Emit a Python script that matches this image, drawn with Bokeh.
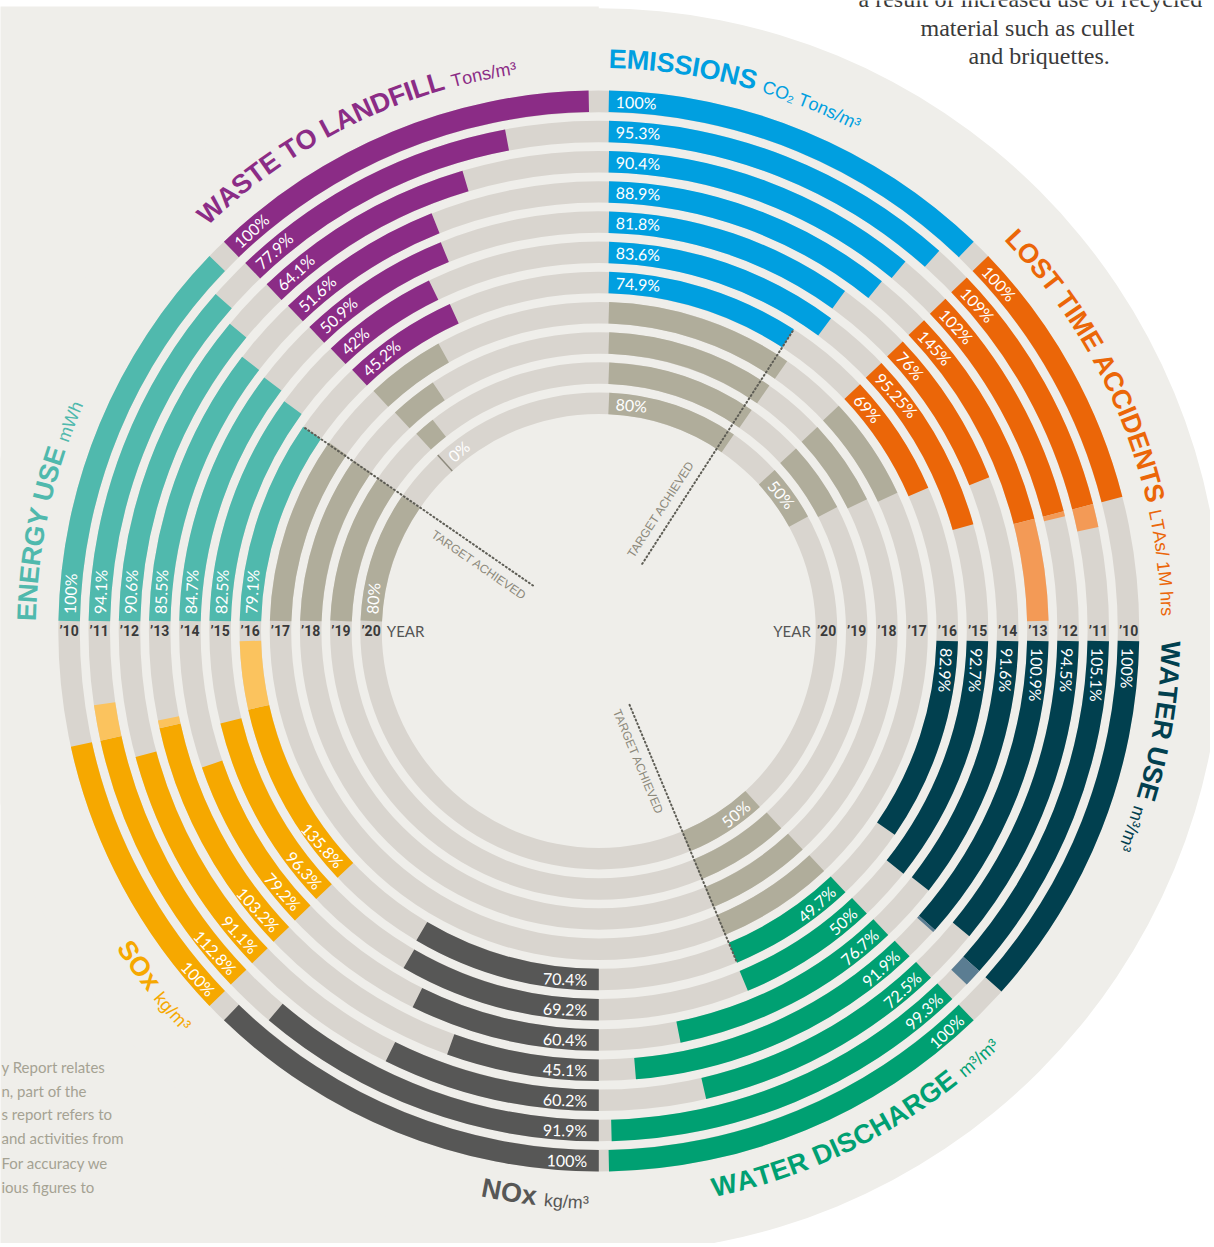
import math
from bokeh.plotting import figure
from bokeh.models import Range1d, ColumnDataSource
from bokeh.core.properties import value
from bokeh.embed import file_html
from bokeh.resources import INLINE

# ---------------- data ----------------
years = ["’10", "’11", "’12", "’13", "’14", "’15", "’16", "’17", "’18", "’19", "’20"]

emissions = [100, 95.3, 90.4, 88.9, 81.8, 83.6, 74.9]
emissions_target = [80, 80, 80, 80]
lost_time = [100, 109, 102, 145, 76, 95.25, 69]
lost_time_target = [64.25, 59.5, 54.75, 50]
water_use = [100, 105.1, 94.5, 100.9, 91.6, 92.7, 82.9]
water_discharge = [100, 99.3, 72.5, 91.9, 76.7, 50, 49.7]
water_discharge_target = [50, 50, 50, 50]
nox = [100, 91.9, 60.2, 45.1, 60.4, 69.2, 70.4]
sox = [100, 112.8, 91.1, 103.2, 79.2, 96.3, 135.8]
energy = [100, 94.1, 90.6, 85.5, 84.7, 82.5, 79.1]
energy_target = [80, 80, 80, 80]
waste = [100, 77.9, 64.1, 51.6, 50.9, 42, 45.2]
waste_target = [33.9, 22.6, 11.3, 0]

metric_names = ["EMISSIONS", "LOST TIME ACCIDENTS", "WATER USE", "WATER DISCHARGE",
                "NOx", "SOx", "ENERGY USE", "WASTE TO LANDFILL"]
metric_units = ["CO₂ Tons/m³", "LTAs/ 1M hrs", "m³/m³", "m³/m³",
                "kg/m³", "kg/m³", "mWh", "Tons/m³"]

note_lines = ["a result of increased use of recycled", "material such as cullet", "and briquettes."]
side_lines = ["y Report relates", "n, part of the", "s report refers to",
              "and activities from", "For accuracy we", "ious figures to"]

# ---------------- geometry / style ----------------
CX, CY = 598.3, 630.5
W, H = 1210, 1243
R0, STEP, THICK, GAP = 540.5, 30.2, 21.5, 10.0
BG, TRACK, KHAKI = "#EFEEEA", "#D9D5CF", "#B0AD9B"
LABEL_FONT = value("Lato")

n_rings = len(years)
r_out = [R0 - STEP * i for i in range(n_rings)]
r_in = [r - THICK for r in r_out]
r_mid = [r - THICK / 2 for r in r_out]

sectors = [
    dict(start=90, values=emissions, target=emissions_target, color="#009FE0", light="#6CC8F0", offset=True, side=1),
    dict(start=45, values=lost_time, target=lost_time_target, color="#EB6608", light="#F39A56", offset=True, side=1),
    dict(start=0, values=water_use, target=None, color="#01404F", light="#5B7D92", offset=True, side=1),
    dict(start=-45, values=water_discharge, target=water_discharge_target, color="#00A072", light="#66C7A8", offset=True, side=-1),
    dict(start=-90, values=nox, target=None, color="#575756", light="#8A8A88", offset=False, side=1),
    dict(start=-135, values=sox, target=None, color="#F6A800", light="#FBC35E", offset=True, side=1),
    dict(start=180, values=energy, target=energy_target, color="#50B9AD", light="#8FD3CB", offset=True, side=1),
    dict(start=135, values=waste, target=waste_target, color="#8B2C86", light="#B57BB2", offset=True, side=1),
]
for k, s in enumerate(sectors):
    s["name"] = metric_names[k]
    s["unit"] = metric_units[k]
    s["vmax"] = max(s["values"])


def half_gap(i):
    return math.degrees(math.asin(GAP / r_mid[i]))


def angles(sec, i, v):
    d = half_gap(i)
    a0 = sec["start"] - (d if sec["offset"] else 0.0)
    avail = 45.0 - d - (d if sec["offset"] else 0.0)
    return a0, a0 - v / sec["vmax"] * avail


p = figure(width=W, height=H, x_range=Range1d(-CX, W - CX),
           y_range=Range1d(CY - H, CY), output_backend="svg",
           toolbar_location=None, min_border=0, x_axis_location=None, y_axis_location=None)
p.grid.visible = False
p.outline_line_color = None
p.background_fill_color = "white"
p.border_fill_color = "white"

# page background: left page + big disc
p.quad(left=[-CX - 20], right=[0], bottom=[CY - 1290], top=[CY - 6], fill_color=BG, line_color=None)
p.circle(x=[0], y=[0], radius=623, fill_color=BG, line_color=None)

# tracks
p.annulus(x=0, y=0, inner_radius=r_in, outer_radius=r_out, fill_color=TRACK, line_color=None)

# bars
bars = dict(ri=[], ro=[], a0=[], a1=[], color=[])


def add_bar(i, a_from, a_to, color):
    bars["ri"].append(r_in[i]); bars["ro"].append(r_out[i])
    bars["a0"].append(math.radians(min(a_from, a_to)))
    bars["a1"].append(math.radians(max(a_from, a_to)))
    bars["color"].append(color)


lab_l = dict(x=[], y=[], text=[], angle=[])
lab_r = dict(x=[], y=[], text=[], angle=[])
markers = dict(xs=[], ys=[])


def add_label(sec, i, text):
    a0, _ = angles(sec, i, 0)
    pad = 7.0 if sec["offset"] else 11.5
    a = a0 - math.degrees(pad / r_mid[i])
    rot = a - 90.0
    dest = lab_l
    if rot < -100:
        rot += 180.0
        dest = lab_r
    ar = math.radians(a)
    dest["x"].append(r_mid[i] * math.cos(ar)); dest["y"].append(r_mid[i] * math.sin(ar))
    dest["text"].append(text); dest["angle"].append(math.radians(rot))


for sec in sectors:
    for i, v in enumerate(sec["values"]):
        a0, a1 = angles(sec, i, v)
        if v > 100:
            _, a100 = angles(sec, i, 100)
            add_bar(i, a0, a100, sec["color"])
            add_bar(i, a100, a1, sec["light"])
        else:
            add_bar(i, a0, a1, sec["color"])
        add_label(sec, i, f"{v:g}%")
    if sec["target"]:
        base = len(sec["values"])
        for j, tv in enumerate(sec["target"]):
            i = base + j
            a0, a1 = angles(sec, i, tv)
            if tv > 0:
                add_bar(i, a0, a1, KHAKI)
            else:
                ar = math.radians(a0)
                markers["xs"].append([r_in[i] * math.cos(ar), r_out[i] * math.cos(ar)])
                markers["ys"].append([r_in[i] * math.sin(ar), r_out[i] * math.sin(ar)])
        add_label(sec, n_rings - 1, f"{sec['target'][-1]:g}%")

p.annular_wedge(x=0, y=0, inner_radius="ri", outer_radius="ro", start_angle="a0", end_angle="a1",
                direction="anticlock", fill_color="color", line_color=None, source=ColumnDataSource(bars))
if markers["xs"]:
    p.multi_line(xs="xs", ys="ys", line_color="#8E8B7E", line_width=1.5, source=ColumnDataSource(markers))

p.text(x="x", y="y", text="text", angle="angle", source=ColumnDataSource(lab_l), text_align="left",
       text_baseline="middle", text_color="white", text_font=LABEL_FONT, text_font_size="16px")
p.text(x="x", y="y", text="text", angle="angle", source=ColumnDataSource(lab_r), text_align="right",
       text_baseline="middle", text_color="white", text_font=LABEL_FONT, text_font_size="16px")

# target achieved dotted lines
ta = dict(x=[], y=[], text=[], angle=[])
for sec in sectors:
    if sec["target"] and sec["values"][-1] <= sec["target"][-1]:
        i = len(sec["values"]) - 1
        _, a1 = angles(sec, i, sec["values"][-1])
        ar = math.radians(a1)
        p.line([80 * math.cos(ar), r_out[i] * math.cos(ar)], [80 * math.sin(ar), r_out[i] * math.sin(ar)],
               line_color="#5E5D55", line_width=2, line_dash="1 3", line_cap="round")
        perp = ar + math.pi / 2 * sec["side"]
        cx_ = 136 * math.cos(ar) + 14 * math.cos(perp)
        cy_ = 136 * math.sin(ar) + 14 * math.sin(perp)
        rot = ar if math.cos(ar) > 0 else ar - math.pi
        ta["x"].append(cx_); ta["y"].append(cy_); ta["text"].append("TARGET ACHIEVED"); ta["angle"].append(rot)
p.text(x="x", y="y", text="text", angle="angle", source=ColumnDataSource(ta), text_align="center",
       text_baseline="middle", text_color="#8C897B", text_font=value("Liberation Sans"), text_font_size="12px")

# year labels
yl = dict(x=[], y=[], text=[])
for i, yv in enumerate(years):
    for sgn in (-1, 1):
        yl["x"].append(sgn * r_mid[i]); yl["y"].append(0.0); yl["text"].append(yv)
p.text(x="x", y="y", text="text", source=ColumnDataSource(yl), text_align="center", text_baseline="middle",
       text_color="#3A3A3A", text_font=value("Roboto"), text_font_size="14px", text_font_style="bold")
p.text(x=[-r_in[-1] + 5], y=[0], text=["YEAR"], text_align="left", text_baseline="middle",
       text_color="#555555", text_font=LABEL_FONT, text_font_size="15px")
p.text(x=[r_in[-1] - 5], y=[0], text=["YEAR"], text_align="right", text_baseline="middle",
       text_color="#555555", text_font=LABEL_FONT, text_font_size="15px")

# curved titles
BOLD_W = {" ": 278, "A": 722, "B": 722, "C": 722, "D": 722, "E": 667, "F": 611, "G": 778, "H": 722,
          "I": 278, "L": 611, "M": 833, "N": 722, "O": 778, "R": 722, "S": 667, "T": 611, "U": 722,
          "W": 944, "Y": 667, "x": 556}
REG_W = {" ": 278, "C": 722, "O": 778, "T": 611, "L": 556, "A": 667, "M": 833, "W": 944, "s": 500,
         "o": 556, "n": 556, "m": 833, "k": 500, "g": 556, "h": 556, "r": 333, "/": 278, "1": 556,
         "2": 556, "³": 333, "₂": 333}
MID = 0.35  # em distance from baseline to text middle

tb = dict(x=[], y=[], text=[], angle=[], color=[], size=[])
tr = dict(x=[], y=[], text=[], angle=[], color=[], size=[])


def add_curved(segments, RB, anchor_deg, clockwise):
    radii = [RB + MID * sz if clockwise else RB - MID * sz for (t, sz, b, c) in segments]
    widths = [[(BOLD_W if b else REG_W).get(ch, 556) * sz / 1000.0 for ch in t] for (t, sz, b, c) in segments]
    total_ang = sum(sum(w) / rc for w, rc in zip(widths, radii))
    if clockwise:
        theta, sg = math.radians(anchor_deg), -1.0
    else:
        theta, sg = math.radians(anchor_deg) - total_ang, 1.0
    for (t, sz, b, c), ws, rc in zip(segments, widths, radii):
        for ch, w in zip(t, ws):
            tc = theta + sg * (w / 2) / rc
            theta += sg * w / rc
            if ch == " ":
                continue
            rows = tb if b else tr
            rows["x"].append(rc * math.cos(tc)); rows["y"].append(rc * math.sin(tc))
            rows["text"].append(ch)
            rows["angle"].append(tc - math.pi / 2 if clockwise else tc + math.pi / 2)
            rows["color"].append(c); rows["size"].append(f"{sz}px")


for sec in sectors:
    bottom = sec["start"] in (-45, -90, -135)
    segs = [(sec["name"], 27, True, sec["color"]), (" ", 27, True, sec["color"]),
            (sec["unit"], 18, False, sec["color"])]
    add_curved(segs, 578 if bottom else 562.5, sec["start"] - 1.0, not bottom)

p.text(x="x", y="y", text="text", angle="angle", text_color="color", text_font_size="size",
       source=ColumnDataSource(tb), text_align="center", text_baseline="middle",
       text_font=value("Liberation Sans"), text_font_style="bold")
p.text(x="x", y="y", text="text", angle="angle", text_color="color", text_font_size="size",
       source=ColumnDataSource(tr), text_align="center", text_baseline="middle",
       text_font=value("Liberation Sans"))

# page texts
note_x = [858, 920, 968]
note_y = [-1.5, 27, 55.5]
p.text(x=[X - CX for X in note_x], y=[CY - Y for Y in note_y], text=note_lines, text_align="left",
       text_baseline="middle", text_color="#3A3A3A", text_font=value("Liberation Serif"),
       text_font_size="24px")
side_y = [1066, 1090, 1113.5, 1137.5, 1162, 1186]
p.text(x=[1 - CX] * len(side_lines), y=[CY - Y for Y in side_y], text=side_lines, text_align="left",
       text_baseline="middle", text_color="#A5A293", text_font=LABEL_FONT, text_font_size="15px")

open("out.html", "w").write(file_html(p, INLINE))
